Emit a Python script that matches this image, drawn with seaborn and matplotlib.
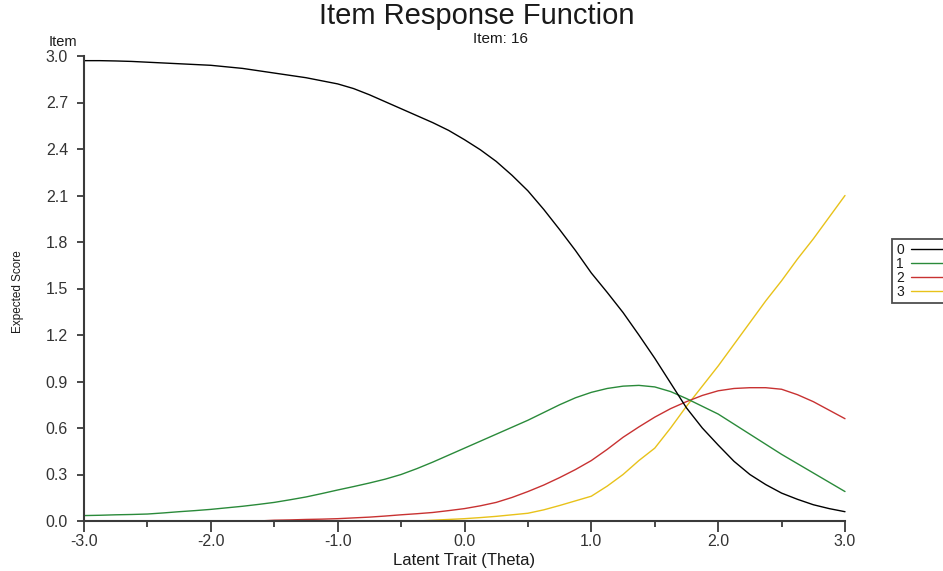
import numpy as np
import pandas as pd
import matplotlib
matplotlib.use("Agg")
import matplotlib.pyplot as plt
from matplotlib.lines import Line2D
import seaborn as sns

# Latent trait grid (step 0.125) and expected-score curves per response category
theta = [-3.0, -2.875, -2.75, -2.625, -2.5, -2.375, -2.25, -2.125, -2.0, -1.875,
         -1.75, -1.625, -1.5, -1.375, -1.25, -1.125, -1.0, -0.875, -0.75, -0.625,
         -0.5, -0.375, -0.25, -0.125, 0.0, 0.125, 0.25, 0.375, 0.5, 0.625,
         0.75, 0.875, 1.0, 1.125, 1.25, 1.375, 1.5, 1.625, 1.75, 1.875,
         2.0, 2.125, 2.25, 2.375, 2.5, 2.625, 2.75, 2.875, 3.0]
cat0 = [2.970, 2.970, 2.968, 2.965, 2.960, 2.955, 2.950, 2.945, 2.940, 2.930,
        2.920, 2.905, 2.890, 2.875, 2.860, 2.840, 2.820, 2.790, 2.750, 2.705,
        2.660, 2.615, 2.570, 2.520, 2.460, 2.395, 2.320, 2.230, 2.130, 2.010,
        1.880, 1.745, 1.600, 1.475, 1.345, 1.200, 1.050, 0.890, 0.730, 0.600,
        0.490, 0.385, 0.300, 0.235, 0.180, 0.140, 0.105, 0.080, 0.060]
cat1 = [0.035, 0.037, 0.040, 0.042, 0.045, 0.052, 0.060, 0.067, 0.075, 0.085,
        0.095, 0.107, 0.120, 0.137, 0.155, 0.177, 0.200, 0.222, 0.245, 0.270,
        0.300, 0.338, 0.380, 0.425, 0.470, 0.515, 0.560, 0.605, 0.650, 0.700,
        0.750, 0.795, 0.830, 0.855, 0.870, 0.875, 0.865, 0.835, 0.790, 0.740,
        0.690, 0.625, 0.560, 0.495, 0.430, 0.370, 0.310, 0.250, 0.190]
cat2 = [0.0, 0.0, 0.0, 0.0, 0.0, 0.0, 0.0, 0.0, 0.0, 0.0,
        0.0, 0.0, 0.005, 0.007, 0.010, 0.012, 0.015, 0.020, 0.025, 0.032,
        0.040, 0.047, 0.055, 0.067, 0.080, 0.098, 0.120, 0.152, 0.190, 0.232,
        0.280, 0.332, 0.390, 0.462, 0.540, 0.607, 0.670, 0.725, 0.770, 0.810,
        0.840, 0.855, 0.860, 0.860, 0.850, 0.815, 0.770, 0.715, 0.660]
cat3 = [0.0, 0.0, 0.0, 0.0, 0.0, 0.0, 0.0, 0.0, 0.0, 0.0,
        0.0, 0.0, 0.0, 0.0, 0.0, 0.0, 0.0, 0.0, 0.0, 0.0,
        0.0, 0.0, 0.005, 0.010, 0.015, 0.022, 0.030, 0.040, 0.050, 0.072,
        0.100, 0.130, 0.160, 0.225, 0.300, 0.390, 0.470, 0.600, 0.740, 0.870,
        1.000, 1.140, 1.280, 1.420, 1.550, 1.690, 1.820, 1.960, 2.100]
categories = ["0", "1", "2", "3"]
colors = ["#000000", "#2a8a3a", "#c83232", "#e8c21a"]

xticks = [-3.0, -2.0, -1.0, 0.0, 1.0, 2.0, 3.0]
yticks = [0.0, 0.3, 0.6, 0.9, 1.2, 1.5, 1.8, 2.1, 2.4, 2.7, 3.0]

df = pd.DataFrame({
    "theta": theta * 4,
    "score": cat0 + cat1 + cat2 + cat3,
    "category": [c for c in categories for _ in theta],
})

sns.set_style("ticks")
plt.rcParams["font.family"] = ["Liberation Sans", "DejaVu Sans"]

W, H = 943, 571
fig = plt.figure(figsize=(W / 100, H / 100), dpi=100)
ax = fig.add_axes([84 / W, 1 - 521 / H, 761 / W, 465 / H])

palette = dict(zip(categories, colors))
sns.lineplot(data=df, x="theta", y="score", hue="category", palette=palette,
             hue_order=categories[::-1], linewidth=1.0, estimator=None,
             legend=False, ax=ax)
for ln in ax.lines:
    ln.set_clip_on(False)

ax.set_xlim(-3, 3)
ax.set_ylim(0, 3)
ax.set_xticks(xticks)
ax.set_xticklabels([f"{v:.1f}" for v in xticks])
ax.set_xticks(np.arange(-2.5, 3.0, 1.0), minor=True)
ax.set_yticks(yticks)
ax.set_yticklabels([f"{v:.1f}" for v in yticks])
ax.set_xlabel("")
ax.set_ylabel("")

spine_col = "#3a3a3a"
for s in ["top", "right"]:
    ax.spines[s].set_visible(False)
for s in ["left", "bottom"]:
    ax.spines[s].set_color(spine_col)
    ax.spines[s].set_linewidth(1.5)
ax.tick_params(axis="x", which="major", direction="out", length=8, width=1.3,
               color=spine_col, labelsize=11.5, pad=1.5, labelcolor="#333333")
ax.tick_params(axis="x", which="minor", direction="out", length=4.5, width=1.3,
               color=spine_col)
ax.tick_params(axis="y", which="major", direction="out", length=5, width=1.3,
               color=spine_col, labelsize=11.5, pad=6.5, labelcolor="#333333")

# Titles and axis captions
fig.text(477 / W, 1 - 24 / H, "Item Response Function", ha="center", va="baseline",
         fontsize=21, color="#1a1a1a")
fig.text(501 / W, 1 - 43 / H, "Item: 16", ha="center", va="baseline",
         fontsize=11, color="#1a1a1a")
fig.text(63 / W, 1 - 42 / H, "Item", ha="center", va="center",
         fontsize=10.5, color="#1a1a1a")
fig.text(18 / W, 1 - 292 / H, "Expected Score", ha="center", va="center",
         rotation=90, fontsize=8.5, color="#1a1a1a")
fig.text(464 / W, 1 - 560 / H, "Latent Trait (Theta)", ha="center", va="center",
         fontsize=12, color="#1a1a1a")

handles = [Line2D([0], [0], color=c, lw=1.0) for c in colors]
leg = ax.legend(handles, categories, loc="lower left",
                bbox_to_anchor=((892 - 84) / 761, (521 - 303) / 465),
                borderaxespad=0, markerfirst=False, frameon=True, fancybox=False,
                fontsize=10, handlelength=2.4, handletextpad=0.5,
                labelspacing=0.0, borderpad=0.3)
leg.get_frame().set_edgecolor("#222222")
leg.get_frame().set_linewidth(1.3)
for t in leg.get_texts():
    t.set_color("#1a1a1a")

fig.savefig("out.png", dpi=100)
